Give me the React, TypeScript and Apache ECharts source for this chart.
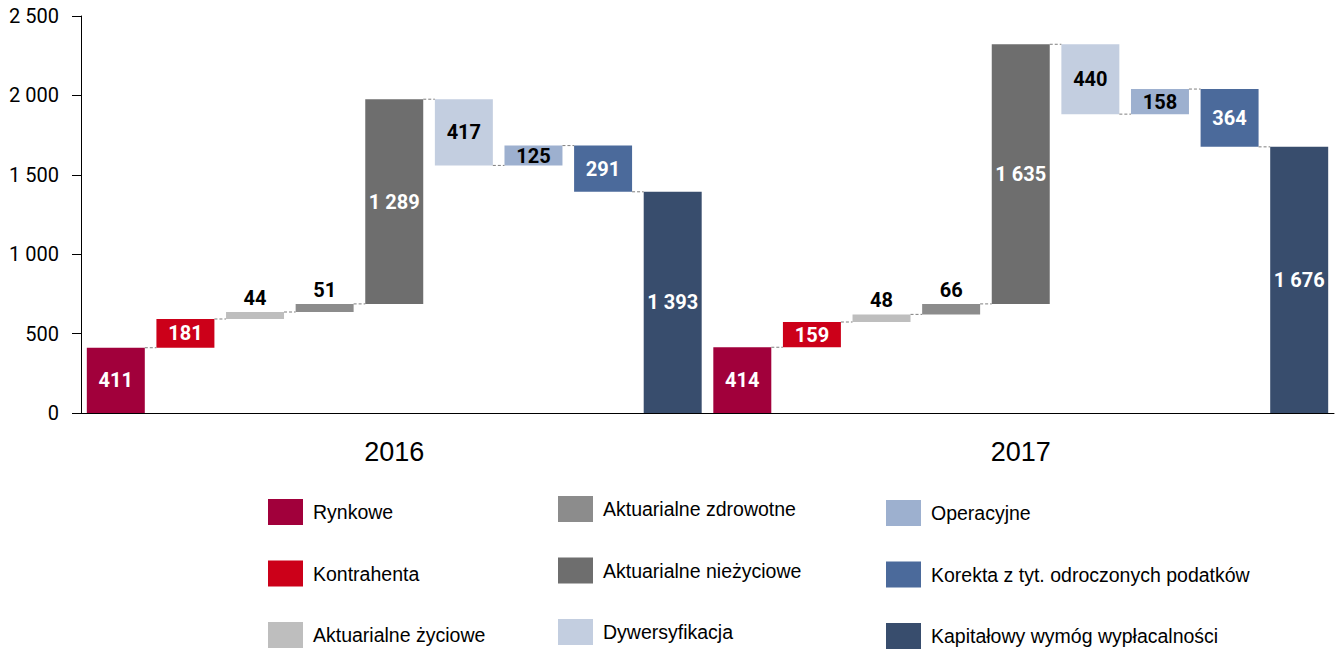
import React, { useEffect, useRef } from "react";
import * as echarts from "echarts";

const groups = [
  "Rynkowe",
  "Kontrahenta",
  "Aktuarialne życiowe",
  "Aktuarialne zdrowotne",
  "Aktuarialne nieżyciowe",
  "Dywersyfikacja",
  "Operacyjne",
  "Korekta z tyt. odroczonych podatków",
  "Kapitałowy wymóg wypłacalności",
];
const years = ["2016", "2017"];
const values2016 = [411, 181, 44, 51, 1289, -417, 125, -291, 1393];
const values2017 = [414, 159, 48, 66, 1635, -440, 158, -364, 1676];
const yTicks = [0, 500, 1000, 1500, 2000, 2500];

const colors = ["#A1003B", "#CC0019", "#BEBEBE", "#8C8C8C", "#6E6E6E", "#C3CEE0", "#9DB0CF", "#4B6A9B", "#384D6D"];
const labelColors = ["#fff", "#fff", "#000", "#000", "#fff", "#000", "#000", "#fff", "#fff"];
const labelOnTop = [false, false, true, true, false, false, false, false, false];
const legendCols = [
  [groups[0], groups[1], groups[2]],
  [groups[3], groups[4], groups[5]],
  [groups[6], groups[7], groups[8]],
];

const fmt = (v: number) => String(Math.round(v)).replace(/\B(?=(\d{3})+(?!\d))/g, " ");

type Step = { lo: number; hi: number; level: number };
function steps(vals: number[]): Step[] {
  let run = 0;
  return vals.map((v, i) => {
    if (i === vals.length - 1) return { lo: 0, hi: v, level: v };
    const a = run;
    run += v;
    return { lo: Math.min(a, run), hi: Math.max(a, run), level: run };
  });
}

const allSteps = [...steps(values2016), ...steps(values2017)];
const categories = years.flatMap((y) => groups.map((g) => `${g} ${y}`));
const N = groups.length;
const BAR_FRAC = 0.833;
const numFont = "Roboto, 'Liberation Sans', Arial, sans-serif";
const textFont = "'Liberation Sans', Arial, sans-serif";

export default function App() {
  const ref = useRef<HTMLDivElement>(null);
  useEffect(() => {
    if (!ref.current) return;
    const chart = echarts.init(ref.current, undefined, { renderer: "svg" });

    const baseSeries = {
      type: "bar",
      name: "base",
      stack: "w",
      silent: true,
      barWidth: `${BAR_FRAC * 100}%`,
      itemStyle: { color: "transparent" },
      data: allSteps.map((s) => s.lo),
    };

    const coloredSeries = groups.map((g, k) => ({
      type: "bar",
      name: g,
      stack: "w",
      barWidth: `${BAR_FRAC * 100}%`,
      itemStyle: { color: colors[k] },
      label: {
        show: true,
        position: labelOnTop[k] ? "top" : "inside",
        distance: 4,
        color: labelColors[k],
        fontFamily: numFont,
        fontWeight: "bold",
        fontSize: 20,
        formatter: (p: any) => fmt(p.value),
      },
      data: allSteps.map((s, idx) => (idx % N === k ? s.hi - s.lo : "-")),
    }));

    const connectorData: number[][] = [];
    allSteps.forEach((s, idx) => {
      if (idx % N !== N - 1) connectorData.push([idx, s.level]);
    });

    const connectorSeries = {
      type: "custom",
      name: "connectors",
      silent: true,
      coordinateSystem: "cartesian2d",
      xAxisIndex: 0,
      yAxisIndex: 0,
      encode: { x: 0, y: 1 },
      data: connectorData,
      z: 5,
      renderItem: (_params: any, api: any) => {
        const x = api.value(0);
        const y = api.value(1);
        const p1 = api.coord([x, y]);
        const p2 = api.coord([x + 1, y]);
        const half = (api.size([1, 0])[0] * BAR_FRAC) / 2;
        return {
          type: "line",
          shape: { x1: p1[0] + half, y1: p1[1], x2: p2[0] - half, y2: p1[1] },
          style: { stroke: "#7f7f7f", lineWidth: 1, lineDash: [3, 2] },
        };
      },
    };

    const legendTops = [499, 496, 500];
    const legendLefts = [268, 558, 886];

    chart.setOption({
      animation: false,
      backgroundColor: "#fff",
      grid: { left: 81, right: 2, top: 16, bottom: 237, containLabel: false },
      legend: legendCols.map((col, i) => ({
        data: col,
        orient: "vertical",
        left: legendLefts[i],
        top: legendTops[i],
        padding: 0,
        itemWidth: 35,
        itemHeight: 26,
        itemGap: 35.5,
        icon: "rect",
        selectedMode: false,
        textStyle: { fontFamily: textFont, fontSize: 19.5, color: "#000", padding: [0, 0, 0, 5] },
      })),
      xAxis: [
        {
          type: "category",
          data: categories,
          axisLine: { show: true, lineStyle: { color: "#000", width: 1 } },
          axisTick: { show: false },
          axisLabel: { show: false },
        },
        {
          type: "category",
          data: years,
          position: "bottom",
          gridIndex: 0,
          axisLine: { show: false },
          axisTick: { show: false },
          axisLabel: { fontFamily: textFont, fontSize: 27, color: "#000", margin: 25 },
        },
      ],
      yAxis: {
        type: "value",
        min: yTicks[0],
        max: yTicks[yTicks.length - 1],
        interval: 500,
        axisLine: { show: true, lineStyle: { color: "#000", width: 1 } },
        axisTick: { show: true, length: 9, lineStyle: { color: "#000" } },
        splitLine: { show: false },
        axisLabel: {
          margin: 22,
          fontFamily: numFont,
          fontSize: 20,
          color: "#000",
          formatter: (v: number) => fmt(v),
        },
      },
      series: [baseSeries, ...coloredSeries, connectorSeries],
    });

    return () => chart.dispose();
  }, []);

  return (
    <div
      ref={ref}
      style={{ position: "fixed", left: 0, top: 0, width: 1336, height: 650 }}
    />
  );
}
